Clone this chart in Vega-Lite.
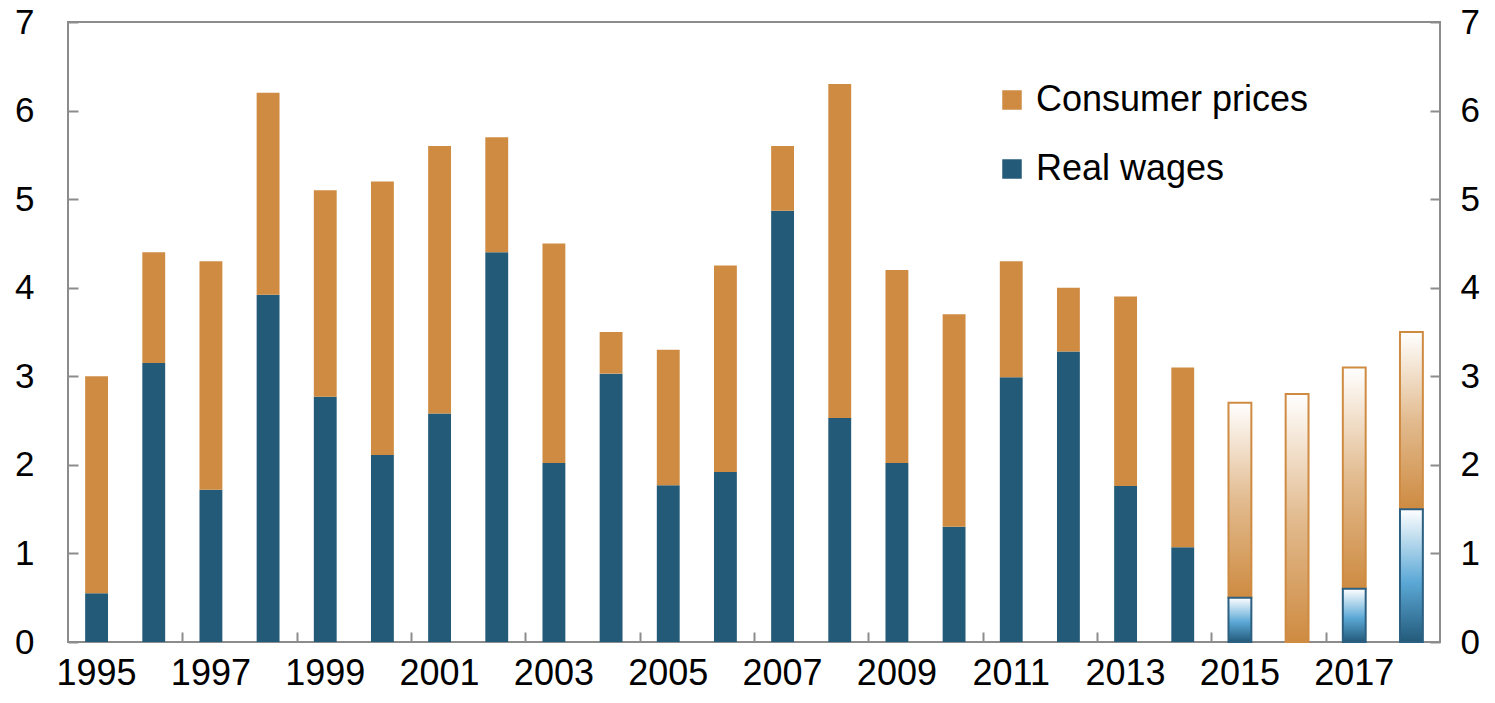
{
  "$schema": "https://vega.github.io/schema/vega-lite/v6.json",
  "autosize": "none",
  "padding": {"left": 68, "top": 22, "right": 55, "bottom": 61},
  "width": 1372,
  "height": 620,
  "background": "white",
  "config": {
    "view": {"stroke": "#8c8c8c", "strokeWidth": 2},
    "font": "Liberation Sans",
    "axis": {"labelFont": "Liberation Sans", "labelFontSize": 35, "labelColor": "#000000", "domain": false, "grid": false, "tickColor": "#8c8c8c", "tickWidth": 2, "title": null}
  },
  "data": {
    "values": [
      {"year": "1995", "series": "Real wages", "value": 0.55, "forecast": false},
      {"year": "1995", "series": "Consumer prices", "value": 2.45, "forecast": false},
      {"year": "1996", "series": "Real wages", "value": 3.15, "forecast": false},
      {"year": "1996", "series": "Consumer prices", "value": 1.25, "forecast": false},
      {"year": "1997", "series": "Real wages", "value": 1.72, "forecast": false},
      {"year": "1997", "series": "Consumer prices", "value": 2.58, "forecast": false},
      {"year": "1998", "series": "Real wages", "value": 3.92, "forecast": false},
      {"year": "1998", "series": "Consumer prices", "value": 2.28, "forecast": false},
      {"year": "1999", "series": "Real wages", "value": 2.77, "forecast": false},
      {"year": "1999", "series": "Consumer prices", "value": 2.33, "forecast": false},
      {"year": "2000", "series": "Real wages", "value": 2.11, "forecast": false},
      {"year": "2000", "series": "Consumer prices", "value": 3.09, "forecast": false},
      {"year": "2001", "series": "Real wages", "value": 2.58, "forecast": false},
      {"year": "2001", "series": "Consumer prices", "value": 3.02, "forecast": false},
      {"year": "2002", "series": "Real wages", "value": 4.4, "forecast": false},
      {"year": "2002", "series": "Consumer prices", "value": 1.3, "forecast": false},
      {"year": "2003", "series": "Real wages", "value": 2.02, "forecast": false},
      {"year": "2003", "series": "Consumer prices", "value": 2.48, "forecast": false},
      {"year": "2004", "series": "Real wages", "value": 3.03, "forecast": false},
      {"year": "2004", "series": "Consumer prices", "value": 0.47, "forecast": false},
      {"year": "2005", "series": "Real wages", "value": 1.77, "forecast": false},
      {"year": "2005", "series": "Consumer prices", "value": 1.53, "forecast": false},
      {"year": "2006", "series": "Real wages", "value": 1.92, "forecast": false},
      {"year": "2006", "series": "Consumer prices", "value": 2.33, "forecast": false},
      {"year": "2007", "series": "Real wages", "value": 4.87, "forecast": false},
      {"year": "2007", "series": "Consumer prices", "value": 0.73, "forecast": false},
      {"year": "2008", "series": "Real wages", "value": 2.53, "forecast": false},
      {"year": "2008", "series": "Consumer prices", "value": 3.77, "forecast": false},
      {"year": "2009", "series": "Real wages", "value": 2.02, "forecast": false},
      {"year": "2009", "series": "Consumer prices", "value": 2.18, "forecast": false},
      {"year": "2010", "series": "Real wages", "value": 1.3, "forecast": false},
      {"year": "2010", "series": "Consumer prices", "value": 2.4, "forecast": false},
      {"year": "2011", "series": "Real wages", "value": 2.99, "forecast": false},
      {"year": "2011", "series": "Consumer prices", "value": 1.31, "forecast": false},
      {"year": "2012", "series": "Real wages", "value": 3.28, "forecast": false},
      {"year": "2012", "series": "Consumer prices", "value": 0.72, "forecast": false},
      {"year": "2013", "series": "Real wages", "value": 1.76, "forecast": false},
      {"year": "2013", "series": "Consumer prices", "value": 2.14, "forecast": false},
      {"year": "2014", "series": "Real wages", "value": 1.07, "forecast": false},
      {"year": "2014", "series": "Consumer prices", "value": 2.03, "forecast": false},
      {"year": "2015", "series": "Real wages", "value": 0.5, "forecast": true},
      {"year": "2015", "series": "Consumer prices", "value": 2.2, "forecast": true},
      {"year": "2016", "series": "Real wages", "value": 0, "forecast": true},
      {"year": "2016", "series": "Consumer prices", "value": 2.8, "forecast": true},
      {"year": "2017", "series": "Real wages", "value": 0.6, "forecast": true},
      {"year": "2017", "series": "Consumer prices", "value": 2.5, "forecast": true},
      {"year": "2018", "series": "Real wages", "value": 1.5, "forecast": true},
      {"year": "2018", "series": "Consumer prices", "value": 2.0, "forecast": true}
    ]
  },
  "transform": [
    {"stack": "value", "groupby": ["year"], "sort": [{"field": "series", "order": "descending"}], "as": ["v0", "v1"]}
  ],
  "resolve": {"axis": {"x": "independent", "y": "independent"}},
  "layer": [
    {
      "transform": [{"filter": "!datum.forecast"}],
      "mark": {"type": "bar"},
      "encoding": {
        "x": {"field": "year", "type": "ordinal", "scale": {"paddingInner": 0.6, "paddingOuter": 0.3},
              "axis": {"orient": "bottom", "values": ["1995","1997","1999","2001","2003","2005","2007","2009","2011","2013","2015","2017"], "ticks": false, "labelAngle": 0, "labelPadding": 14, "labelFontSize": 36}},
        "y": {"field": "v1", "type": "quantitative", "scale": {"domain": [0, 7], "nice": false},
              "axis": {"orient": "left", "values": [0,1,2,3,4,5,6,7], "tickSize": -10, "labelPadding": 44}},
        "y2": {"field": "v0"},
        "color": {"field": "series", "type": "nominal",
                  "scale": {"domain": ["Consumer prices", "Real wages"], "range": ["#CE8B41", "#235A78"]},
                  "legend": {"orient": "none", "legendX": 926, "legendY": 60, "title": null, "symbolType": "square", "symbolSize": 380, "symbolStrokeWidth": 0, "labelFontSize": 36, "labelFont": "Liberation Sans", "labelColor": "#000000", "labelLimit": 600, "rowPadding": 33, "symbolOffset": 0, "labelOffset": 6}}
      }
    },
    {
      "transform": [{"filter": "datum.forecast && datum.series == 'Consumer prices'"}],
      "mark": {"type": "bar", "stroke": "#CE8B41", "strokeWidth": 2,
               "fill": {"gradient": "linear", "x1": 0, "y1": 0, "x2": 0, "y2": 1,
                        "stops": [{"offset": 0, "color": "#FFFFFF"}, {"offset": 0.5, "color": "#E2BB8F"}, {"offset": 1, "color": "#CE8B41"}]}},
      "encoding": {
        "x": {"field": "year", "type": "ordinal",
              "axis": {"orient": "bottom", "values": ["1997","1999","2001","2003","2005","2007","2009","2011","2013","2015","2017"], "labels": false, "tickSize": -10, "bandPosition": 0, "tickOffset": -17}},
        "y": {"field": "v1", "type": "quantitative",
              "axis": {"orient": "right", "values": [0,1,2,3,4,5,6,7], "tickSize": -10, "labelPadding": 30}},
        "y2": {"field": "v0"}
      }
    },
    {
      "transform": [{"filter": "datum.forecast && datum.series == 'Real wages' && datum.value > 0"}],
      "mark": {"type": "bar", "stroke": "#2C5F80", "strokeWidth": 2,
               "fill": {"gradient": "linear", "x1": 0, "y1": 0, "x2": 0, "y2": 1,
                        "stops": [{"offset": 0, "color": "#FFFFFF"}, {"offset": 0.55, "color": "#5BA8D6"}, {"offset": 1, "color": "#235A7A"}]}},
      "encoding": {
        "x": {"field": "year", "type": "ordinal", "axis": null},
        "y": {"field": "v1", "type": "quantitative", "axis": null},
        "y2": {"field": "v0"}
      }
    }
  ]
}
